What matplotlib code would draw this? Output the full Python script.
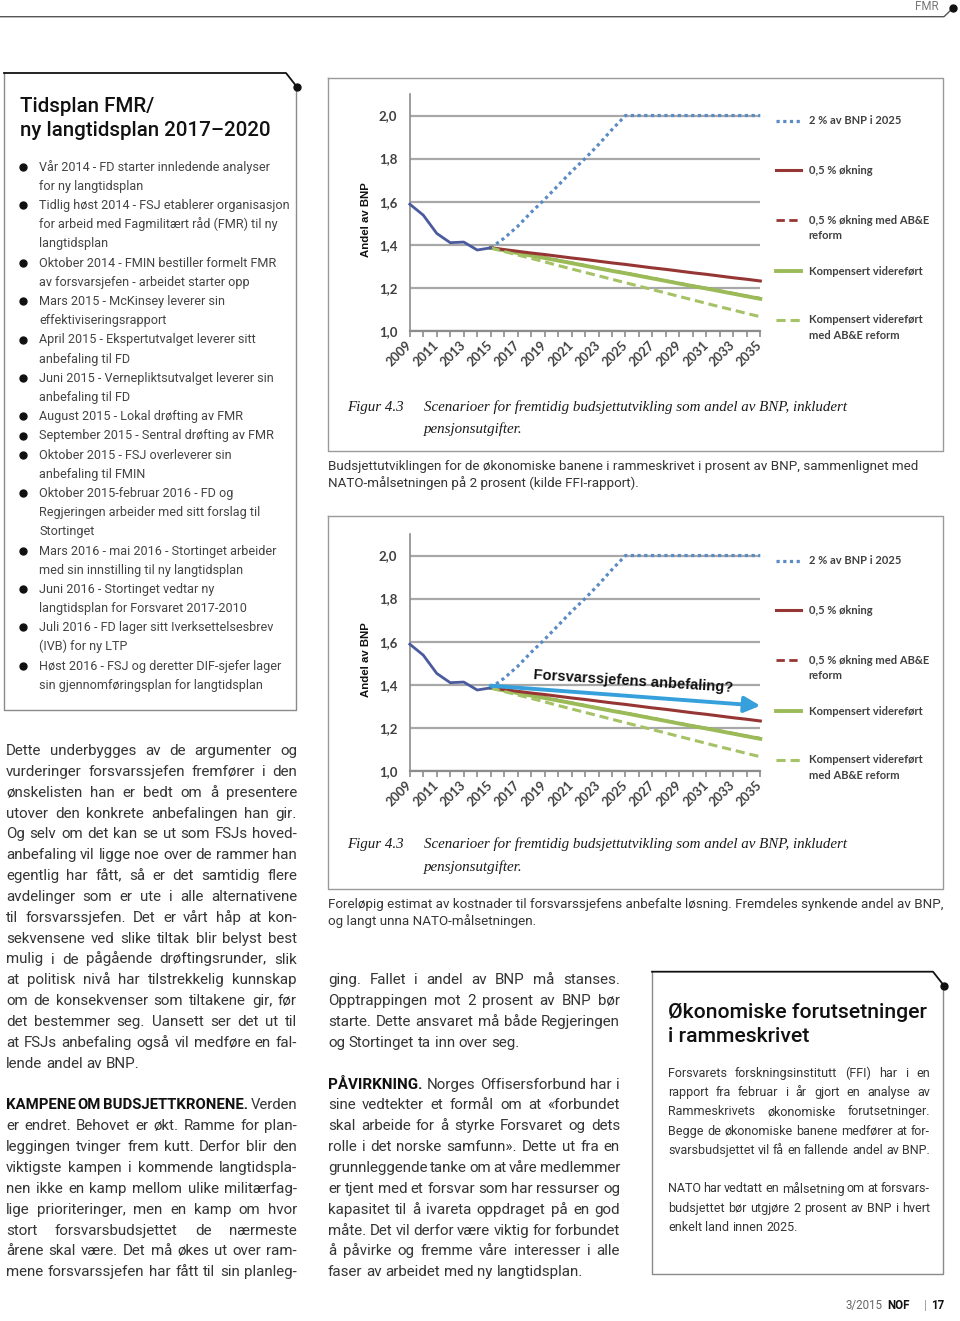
import matplotlib
matplotlib.use('Agg')
import matplotlib.pyplot as plt

W, H = 960, 1321
BODY = 'Roboto'

# ---- chart data (share of GDP) ----
years = list(range(2009, 2036))
hist_years = list(range(2009, 2016))
hist_share = [1.588, 1.537, 1.452, 1.409, 1.412, 1.375, 1.385]
proj_years = list(range(2015, 2036))
nato_2pct = [1.385, 1.43, 1.485, 1.55, 1.61, 1.675, 1.74, 1.80, 1.865, 1.935, 2.0,
             2.0, 2.0, 2.0, 2.0, 2.0, 2.0, 2.0, 2.0, 2.0, 2.0]
okning = [1.385, 1.377, 1.369, 1.361, 1.354, 1.346, 1.338, 1.331, 1.323, 1.315, 1.308,
          1.300, 1.292, 1.285, 1.277, 1.269, 1.262, 1.254, 1.246, 1.239, 1.231]
okning_abe = [1.385, 1.374, 1.362, 1.350, 1.339, 1.327, 1.315, 1.303, 1.291, 1.279, 1.268,
              1.256, 1.244, 1.232, 1.220, 1.208, 1.197, 1.185, 1.173, 1.161, 1.150]
kompensert = [1.385, 1.373, 1.361, 1.349, 1.338, 1.326, 1.314, 1.302, 1.290, 1.278, 1.267,
              1.255, 1.243, 1.231, 1.219, 1.207, 1.196, 1.184, 1.172, 1.160, 1.148]
kompensert_abe = [1.385, 1.368, 1.352, 1.336, 1.320, 1.303, 1.287, 1.271, 1.255, 1.239, 1.223,
                  1.207, 1.191, 1.175, 1.159, 1.143, 1.127, 1.111, 1.096, 1.080, 1.065]
legend_labels = ['2 % av BNP i 2025', '0,5 % økning', '0,5 % økning med AB&E\nreform',
                 'Kompensert videreført', 'Kompensert videreført\nmed AB&E reform']
ytick_vals = [1.0, 1.2, 1.4, 1.6, 1.8, 2.0]
ytick_labels = ['1,0', '1,2', '1,4', '1,6', '1,8', '2,0']
xtick_labels = [str(y) if y % 2 == 1 else '' for y in years]

# ---- page text ----
bullets = [
    ["Vår 2014 - FD starter innledende analyser", "for ny langtidsplan"],
    ["Tidlig høst 2014 - FSJ etablerer organisasjon", "for arbeid med Fagmilitært råd (FMR) til ny", "langtidsplan"],
    ["Oktober 2014 - FMIN bestiller formelt FMR", "av forsvarsjefen - arbeidet starter opp"],
    ["Mars 2015 - McKinsey leverer sin", "effektiviseringsrapport"],
    ["April 2015 - Ekspertutvalget leverer sitt", "anbefaling til FD"],
    ["Juni 2015 - Vernepliktsutvalget leverer sin", "anbefaling til FD"],
    ["August 2015 - Lokal drøfting av FMR"],
    ["September 2015 - Sentral drøfting av FMR"],
    ["Oktober 2015 - FSJ overleverer sin", "anbefaling til FMIN"],
    ["Oktober 2015-februar 2016 - FD og", "Regjeringen arbeider med sitt forslag til", "Stortinget"],
    ["Mars 2016 - mai 2016 - Stortinget arbeider", "med sin innstilling til ny langtidsplan"],
    ["Juni 2016 - Stortinget vedtar ny", "langtidsplan for Forsvaret 2017-2010"],
    ["Juli 2016 - FD lager sitt Iverksettelsesbrev", "(IVB) for ny LTP"],
    ["Høst 2016 - FSJ og deretter DIF-sjefer lager", "sin gjennomføringsplan for langtidsplan"],
]
left_col = [
    "Dette underbygges av de argumenter og",
    "vurderinger forsvarssjefen fremfører i den",
    "ønskelisten han er bedt om å presentere",
    "utover den konkrete anbefalingen han gir.",
    "Og selv om det kan se ut som FSJs hoved-",
    "anbefaling vil ligge noe over de rammer han",
    "egentlig har fått, så er det samtidig flere",
    "avdelinger som er ute i alle alternativene",
    "til forsvarssjefen. Det er vårt håp at kon-",
    "sekvensene ved slike tiltak blir belyst best",
    "mulig i de pågående drøftingsrunder, slik",
    "at politisk nivå har tilstrekkelig kunnskap",
    "om de konsekvenser som tiltakene gir, før",
    "det bestemmer seg. Uansett ser det ut til",
    "at FSJs anbefaling også vil medføre en fal-",
    "lende andel av BNP.",
    "",
    "KAMPENE OM BUDSJETTKRONENE. Verden",
    "er endret. Behovet er økt. Ramme for plan-",
    "leggingen tvinger frem kutt. Derfor blir den",
    "viktigste kampen i kommende langtidspla-",
    "nen ikke en kamp mellom ulike militærfag-",
    "lige prioriteringer, men en kamp om hvor",
    "stort forsvarsbudsjettet de nærmeste",
    "årene skal være. Det må økes ut over ram-",
    "mene forsvarssjefen har fått til sin planleg-",
]
mid_col = [
    "ging. Fallet i andel av BNP må stanses.",
    "Opptrappingen mot 2 prosent av BNP bør",
    "starte. Dette ansvaret må både Regjeringen",
    "og Stortinget ta inn over seg.",
    "",
    "PÅVIRKNING. Norges Offisersforbund har i",
    "sine vedtekter et formål om at «forbundet",
    "skal arbeide for å styrke Forsvaret og dets",
    "rolle i det norske samfunn». Dette ut fra en",
    "grunnleggende tanke om at våre medlemmer",
    "er tjent med et forsvar som har ressurser og",
    "kapasitet til å ivareta oppdraget på en god",
    "måte. Det vil derfor være viktig for forbundet",
    "å påvirke og fremme våre interesser i alle",
    "faser av arbeidet med ny langtidsplan.",
]
box_text = [
    "Forsvarets forskningsinstitutt (FFI) har i en",
    "rapport fra februar i år gjort en analyse av",
    "Rammeskrivets økonomiske forutsetninger.",
    "Begge de økonomiske banene medfører at for-",
    "svarsbudsjettet vil få en fallende andel av BNP.",
    "",
    "NATO har vedtatt en målsetning om at forsvars-",
    "budsjettet bør utgjøre 2 prosent av BNP i hvert",
    "enkelt land innen 2025.",
]
cap1 = ["Budsjettutviklingen for de økonomiske banene i rammeskrivet i prosent av BNP, sammenlignet med",
        "NATO-målsetningen på 2 prosent (kilde FFI-rapport)."]
cap2 = ["Foreløpig estimat av kostnader til forsvarssjefens anbefalte løsning. Fremdeles synkende andel av BNP,",
        "og langt unna NATO-målsetningen."]
fig_title = "Scenarioer for fremtidig budsjettutvikling som andel av BNP, inkludert"

fig = plt.figure(figsize=(W / 100, H / 100), dpi=100)
fig.patch.set_facecolor('white')
page = fig.add_axes([0, 0, 1, 1])
page.set_xlim(0, W)
page.set_ylim(H, 0)
page.axis('off')
renderer = fig.canvas.get_renderer()


def text_w(s, size, weight='normal', family=BODY):
    t = page.text(0, 0, s, fontsize=size, fontweight=weight, family=family)
    w = t.get_window_extent(renderer).width
    t.remove()
    return w


def put_line(x0, x1, y, text, size, justify=False, nbold=0, color='#353535'):
    words = text.split(' ')
    weights = ['bold' if i < nbold else 'normal' for i in range(len(words))]
    widths = [text_w(w, size, wt) for w, wt in zip(words, weights)]
    space = text_w('n n', size) - text_w('nn', size)
    gap = space
    if justify and len(words) > 1:
        need = sum(widths) + 0.6 * space * (len(words) - 1)
        if need > x1 - x0:
            # squeeze the type a little when the line would not fit
            size = size * (x1 - x0) / need
            widths = [text_w(w, size, wt) for w, wt in zip(words, weights)]
        gap = (x1 - x0 - sum(widths)) / (len(words) - 1)
    x = x0
    for w, wt, wd in zip(words, weights, widths):
        page.text(x, y, w, fontsize=size, family=BODY, va='baseline', fontweight=wt,
                  color='#111111' if wt == 'bold' else color)
        x += wd + gap


def column(lines, x0, x1, y0, step, size, cont=False, bold_words=None):
    for k, line in enumerate(lines):
        if not line:
            continue
        last = k == len(lines) - 1
        justify = (not last and lines[k + 1] != '') or (last and cont)
        nb = bold_words.get(k, 0) if bold_words else 0
        put_line(x0, x1, y0 + k * step, line, size, justify, nb)


def box(x0, y0, x1, y1):
    page.plot([x1, x1, x0, x0], [y0 + 14, y1, y1, y0], color='#8a8a8a', lw=1)
    page.plot([x0, x1 - 10, x1 + 1], [y0, y0, y0 + 14], color='#111111', lw=1.3)
    page.plot([x1 + 1], [y0 + 14], 'o', color='#111111', ms=5)


# ---- header ----
page.plot([0, 944, 953], [16.7, 16.7, 8], color='#555555', lw=1)
page.plot([953], [8], 'o', color='#111111', ms=5)
page.text(915, 10, 'FMR', fontsize=8.3, family=BODY, color='#777777', va='baseline')

# ---- left box: time plan ----
box(4, 73, 296, 710)
page.text(20, 112, 'Tidsplan FMR/', fontsize=14.8, family=BODY, fontweight='medium',
          color='#111111', va='baseline')
page.text(20, 136.5, 'ny langtidsplan 2017–2020', fontsize=14.8, family=BODY, fontweight='medium',
          color='#111111', va='baseline')
k = 0
for item in bullets:
    for j, line in enumerate(item):
        y = 170.7 + k * 19.19
        if j == 0:
            page.plot([23.3], [y - 3.8], 'o', color='#111111', ms=5)
        page.text(39.3, y, line, fontsize=9.1, family=BODY, color='#444444', va='baseline')
        k += 1

# ---- body columns ----
column(left_col, 6, 297, 755, 20.85, 10.9, cont=True, bold_words={17: 3})
column(mid_col, 328, 620, 755 + 11 * 20.85, 20.85, 10.9, bold_words={5: 1})

# ---- right box ----
box(652, 971.7, 943, 1274)
page.text(668, 1018.3, 'Økonomiske forutsetninger', fontsize=15.3, family=BODY,
          fontweight='medium', color='#111111', va='baseline')
page.text(668, 1041.7, 'i rammeskrivet', fontsize=15.3, family=BODY,
          fontweight='medium', color='#111111', va='baseline')
column(box_text, 668, 930, 1076.7, 19.3, 9.0)

# ---- footer ----
page.text(882, 1309, '3/2015', fontsize=8.3, family=BODY, color='#666666', va='baseline', ha='right')
page.text(887, 1309, 'NOF', fontsize=8.3, family=BODY, fontweight='bold', color='#111111',
          va='baseline')
page.text(924, 1309, '|', fontsize=8.3, family=BODY, color='#999999', va='baseline')
page.text(931, 1309, '17', fontsize=8.3, family=BODY, fontweight='bold', color='#111111',
          va='baseline')

# ---- chart frames and captions ----
for top, bottom, caps, cap_y in [(77.7, 451, cap1, 470), (516, 888.5, cap2, 908)]:
    page.plot([328, 943, 943, 328, 328], [top, top, bottom, bottom, top], color='#9a9a9a', lw=1)
    fy = bottom - 40.3
    page.text(347, fy, 'Figur 4.3', family='Liberation Serif', style='italic', fontsize=10.8,
              color='#1a1a1a', va='baseline')
    page.text(424, fy, fig_title, family='Liberation Serif', style='italic', fontsize=10.8,
              color='#1a1a1a', va='baseline')
    page.text(424, fy + 22.3, 'pensjonsutgifter.', family='Liberation Serif', style='italic',
              fontsize=10.8, color='#1a1a1a', va='baseline')
    for j, line in enumerate(caps):
        page.text(328, cap_y + j * 17.5, line, fontsize=9.6, family=BODY, color='#353535',
                  va='baseline')

# ---- the two charts ----
series = [
    (nato_2pct, '#5b8bc5', (0, (1, 1.1)), 2.3),
    (okning, '#963634', '-', 2.2),
    (okning_abe, '#963634', (0, (3, 1.6)), 2.0),
    (kompensert, '#9bbb59', '-', 2.8),
    (kompensert_abe, '#a5c266', (0, (3, 1.6)), 2.2),
]
legend_y = [1.975, 1.746, 1.514, 1.277, 1.050]
AX_L, AX_W, AX_H = 409.8, 350.5, 236.7


def draw_chart(top_px, with_arrow):
    ax = fig.add_axes([AX_L / W, 1 - (top_px + AX_H) / H, AX_W / W, AX_H / H])
    ax.set_facecolor('none')
    ax.plot(hist_years, hist_share, color='#4b5a9c', lw=2, zorder=5, clip_on=False)
    order = [0, 2, 3, 1, 4]
    for i in order:
        vals, color, ls, lw = series[i]
        ax.plot(proj_years, vals, color=color, ls=ls, lw=lw, zorder=3 if i == 2 else 4,
                clip_on=False, dash_capstyle='butt')
    ax.set_xlim(2009, 2035)
    ax.set_ylim(1.0, 2.1)
    ax.set_yticks(ytick_vals, ytick_labels)
    ax.set_xticks(years, xtick_labels, rotation=45, ha='right', va='center',
                  rotation_mode='anchor')
    ax.grid(axis='y', color='#a8a8a8', lw=1.6)
    ax.set_axisbelow(True)
    for s in ['top', 'right']:
        ax.spines[s].set_visible(False)
    ax.spines['left'].set_color('#8c8c8c')
    ax.spines['left'].set_linewidth(1.2)
    ax.spines['bottom'].set_color('#8c8c8c')
    ax.spines['bottom'].set_linewidth(1.6)
    ax.tick_params(axis='y', length=0, pad=9, labelsize=9.5, labelcolor='#404040')
    ax.tick_params(axis='x', length=4, width=1.2, color='#8c8c8c', pad=5, labelsize=9.2,
                   labelcolor='#404040')
    for lbl in ax.get_xticklabels() + ax.get_yticklabels():
        lbl.set_fontfamily('Lato')
        lbl.set_fontweight('bold')
    ax.set_ylabel('Andel av BNP', family='Liberation Sans', fontweight='bold', fontsize=8.2,
                  color='#111111')
    ax.yaxis.set_label_coords(-0.11, 0.47)

    trans = ax.get_yaxis_transform()
    for (vals, color, ls, lw), label, ly in zip(series, legend_labels, legend_y):
        ax.plot([1.045, 1.1175], [ly, ly], transform=trans, color=color, ls=ls, lw=lw,
                clip_on=False, dash_capstyle='butt')
        for j, part in enumerate(label.split('\n')):
            ax.text(1.138, ly - j * 0.073, part, transform=trans, va='center', ha='left',
                    family='Lato', fontweight='bold', fontsize=8, color='#404040')

    if with_arrow:
        ax.annotate('', xy=(2035, 1.302), xytext=(2015, 1.395), zorder=6,
                    annotation_clip=False,
                    arrowprops=dict(arrowstyle='-|>,head_length=0.8,head_width=0.4',
                                    color='#35a0dc', lw=2.8, shrinkA=0, shrinkB=0,
                                    mutation_scale=12))
        ax.text(2025.6, 1.413, 'Forsvarssjefens anbefaling?', rotation=-3.7,
                rotation_mode='anchor', ha='center', va='center', fontsize=10.6,
                fontweight='bold', family='Liberation Sans', color='#111111', zorder=7)
    return ax


draw_chart(94, False)
draw_chart(534, True)

fig.savefig('out.png', dpi=100)
